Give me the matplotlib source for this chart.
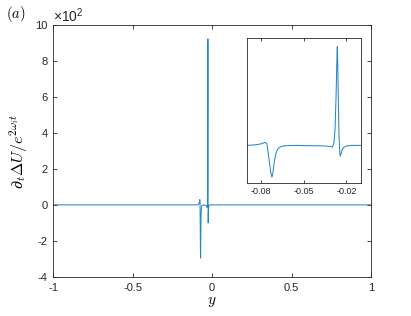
import matplotlib
matplotlib.use("Agg")
import matplotlib.pyplot as plt

# values, dU in units of 10^2
y_vals = [-1.0, -0.0898, -0.0842, -0.0807, -0.0786, -0.0770, -0.0758, -0.0751,
          -0.0744, -0.0737, -0.0730, -0.0723, -0.0716, -0.0709, -0.0702, -0.0695,
          -0.0685, -0.0672, -0.0653, -0.0626, -0.0563, -0.0353, -0.0318, -0.0298,
          -0.0287, -0.0280, -0.0273, -0.0266, -0.0264, -0.0261, -0.0256, -0.0252,
          -0.0247, -0.0244, -0.0238, -0.0231, -0.0221, -0.0200, -0.0165, -0.0102, 1.0]
dU_vals = [0.0, 0.0, 0.05, 0.12, 0.2, 0.29, 0.15, -0.5,
           -1.2, -1.9, -2.6, -2.95, -2.6, -1.8, -1.2, -0.75,
           -0.4, -0.2, -0.08, -0.03, 0.0, -0.05, -0.1, -0.15,
           0.3, 1.5, 4.5, 8.5, 9.2, 7.5, 3.5, 0.8,
           -0.6, -1.0, -0.8, -0.45, -0.2, -0.05, 0.0, 0.0, 0.0]

x_ticks = [-1, -0.5, 0, 0.5, 1]
x_tick_labels = ["-1", "-0.5", "0", "0.5", "1"]
y_ticks = [-4, -2, 0, 2, 4, 6, 8, 10]
y_tick_labels = ["-4", "-2", "0", "2", "4", "6", "8", "10"]
inset_ticks = [-0.08, -0.05, -0.02]
inset_tick_labels = ["-0.08", "-0.05", "-0.02"]

line_color = "#0072BD"
axis_color = "#262626"

plt.rcParams["font.family"] = ["Liberation Sans", "DejaVu Sans"]
plt.rcParams["mathtext.fontset"] = "cm"

fig = plt.figure(figsize=(4.11, 3.16), dpi=100)
ax = fig.add_axes([0.129, 0.1234, 0.774, 0.799])
ax.plot(y_vals, dU_vals, color=line_color, lw=0.75, alpha=0.85)
ax.set_xlim(-1, 1)
ax.set_ylim(-4, 10)
ax.set_xticks(x_ticks)
ax.set_xticklabels(x_tick_labels)
ax.set_yticks(y_ticks)
ax.set_yticklabels(y_tick_labels)
ax.tick_params(direction="in", length=3, width=0.6, top=True, right=True,
               labelsize=8, colors=axis_color, pad=4)
for s in ax.spines.values():
    s.set_color(axis_color)
    s.set_linewidth(0.6)
ax.set_xlabel(r"$y$", fontsize=11, labelpad=2)
ax.set_ylabel(r"$\partial_t\Delta U/e^{2\omega_i t}$", fontsize=11.5, labelpad=4)
ax.text(0.0, 1.0, r"$\mathregular{\times10^{2}}$", transform=ax.transAxes,
        fontsize=10, color=axis_color, ha="left", va="bottom")
fig.text(0.015, 0.955, r"$(a)$", fontsize=10.5, ha="left", va="center")

axin = fig.add_axes([0.6002, 0.4209, 0.2774, 0.4589])
axin.plot(y_vals, dU_vals, color=line_color, lw=0.75, alpha=0.85)
axin.set_xlim(-0.09, -0.01)
axin.set_ylim(-3.5, 10)
axin.set_xticks(inset_ticks)
axin.set_xticklabels(inset_tick_labels)
axin.set_yticks([])
axin.tick_params(direction="in", length=2.5, width=0.6, top=True,
                 labelsize=6.5, colors=axis_color, pad=3)
for s in axin.spines.values():
    s.set_color(axis_color)
    s.set_linewidth(0.6)

fig.savefig("out.png", dpi=100)
